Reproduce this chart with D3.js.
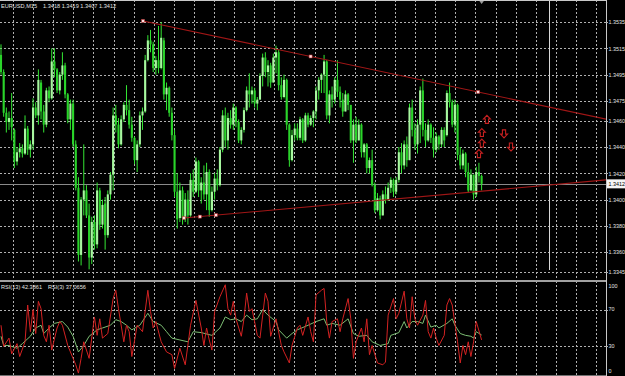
<!DOCTYPE html>
<html><head><meta charset="utf-8">
<script src="https://cdn.jsdelivr.net/npm/d3@7/dist/d3.min.js"></script>
<style>html,body{margin:0;padding:0;background:#000;overflow:hidden}svg{display:block}</style>
</head><body><svg id="c" width="625" height="376"></svg>
<script>
// ---------------- data ----------------
const symbolLabel = "EURUSD,M15";
const lastBarLabel = ["1.3418", "1.3419", "1.3407", "1.3412"];
const open = [1.3510,1.3497,1.3466,1.3459,1.3462,1.3453,1.3429,1.3436,1.3439,1.3435,
1.3454,1.3438,1.3442,1.3470,1.3464,1.3489,1.3467,1.3457,1.3483,1.3477,
1.3505,1.3499,1.3483,1.3495,1.3502,1.3480,1.3461,1.3473,1.3442,1.3409,
1.3358,1.3400,1.3407,1.3388,1.3356,1.3383,1.3366,1.3407,1.3381,1.3397,
1.3373,1.3404,1.3419,1.3464,1.3457,1.3442,1.3461,1.3472,1.3468,1.3457,
1.3447,1.3430,1.3442,1.3464,1.3467,1.3506,1.3521,1.3518,1.3500,1.3506,
1.3500,1.3521,1.3480,1.3485,1.3466,1.3449,1.3406,1.3386,1.3407,1.3386,
1.3400,1.3388,1.3415,1.3406,1.3429,1.3407,1.3413,1.3404,1.3421,1.3392,
1.3406,1.3416,1.3411,1.3438,1.3464,1.3445,1.3462,1.3457,1.3470,1.3459,
1.3445,1.3453,1.3468,1.3483,1.3480,1.3483,1.3473,1.3476,1.3494,1.3508,
1.3497,1.3502,1.3489,1.3508,1.3512,1.3487,1.3478,1.3491,1.3457,1.3430,
1.3449,1.3454,1.3447,1.3461,1.3445,1.3464,1.3457,1.3462,1.3467,1.3483,
1.3491,1.3495,1.3505,1.3464,1.3480,1.3476,1.3491,1.3482,1.3476,1.3467,
1.3480,1.3472,1.3445,1.3457,1.3445,1.3457,1.3436,1.3442,1.3424,1.3430,
1.3411,1.3392,1.3401,1.3388,1.3404,1.3400,1.3409,1.3415,1.3406,1.3415,
1.3436,1.3426,1.3442,1.3430,1.3470,1.3453,1.3442,1.3457,1.3483,1.3453,
1.3445,1.3457,1.3447,1.3438,1.3448,1.3442,1.3453,1.3449,1.3481,1.3474,
1.3457,1.3472,1.3434,1.3426,1.3435,1.3421,1.3407,1.3419,1.3404,1.3421,
1.3418];
const high = [1.3518,1.3499,1.3470,1.3467,1.3481,1.3454,1.3440,1.3443,1.3442,1.3464,
1.3456,1.3445,1.3477,1.3474,1.3499,1.3491,1.3472,1.3485,1.3486,1.3515,
1.3515,1.3500,1.3497,1.3512,1.3504,1.3481,1.3476,1.3476,1.3445,1.3417,
1.3402,1.3442,1.3411,1.3397,1.3387,1.3388,1.3413,1.3409,1.3400,1.3402,
1.3407,1.3421,1.3470,1.3472,1.3462,1.3464,1.3474,1.3487,1.3476,1.3463,
1.3448,1.3445,1.3467,1.3470,1.3510,1.3525,1.3529,1.3520,1.3509,1.3532,
1.3535,1.3523,1.3489,1.3486,1.3470,1.3453,1.3420,1.3413,1.3410,1.3405,
1.3407,1.3420,1.3423,1.3432,1.3430,1.3417,1.3426,1.3428,1.3423,1.3410,
1.3420,1.3423,1.3440,1.3468,1.3470,1.3466,1.3468,1.3473,1.3471,1.3461,
1.3455,1.3470,1.3486,1.3496,1.3486,1.3485,1.3478,1.3496,1.3511,1.3512,
1.3506,1.3504,1.3511,1.3517,1.3514,1.3493,1.3495,1.3492,1.3458,1.3453,
1.3458,1.3458,1.3463,1.3462,1.3466,1.3466,1.3464,1.3468,1.3486,1.3493,
1.3496,1.3510,1.3506,1.3483,1.3486,1.3493,1.3506,1.3486,1.3481,1.3483,
1.3481,1.3472,1.3461,1.3463,1.3461,1.3458,1.3443,1.3443,1.3432,1.3438,
1.3413,1.3405,1.3403,1.3407,1.3410,1.3413,1.3417,1.3416,1.3417,1.3440,
1.3443,1.3445,1.3448,1.3473,1.3476,1.3458,1.3461,1.3486,1.3492,1.3458,
1.3461,1.3458,1.3455,1.3451,1.3449,1.3455,1.3455,1.3483,1.3489,1.3476,
1.3476,1.3473,1.3440,1.3438,1.3436,1.3428,1.3423,1.3419,1.3425,1.3428,
1.3419];
const low = [1.3495,1.3463,1.3451,1.3453,1.3445,1.3424,1.3426,1.3432,1.3432,1.3434,
1.3434,1.3432,1.3438,1.3462,1.3457,1.3461,1.3451,1.3455,1.3474,1.3476,
1.3493,1.3481,1.3480,1.3491,1.3477,1.3458,1.3453,1.3440,1.3407,1.3353,
1.3350,1.3388,1.3386,1.3347,1.3351,1.3362,1.3363,1.3377,1.3378,1.3362,
1.3371,1.3400,1.3407,1.3451,1.3439,1.3441,1.3459,1.3464,1.3454,1.3444,
1.3427,1.3421,1.3440,1.3453,1.3466,1.3505,1.3512,1.3497,1.3495,1.3496,
1.3499,1.3476,1.3468,1.3463,1.3445,1.3402,1.3378,1.3383,1.3381,1.3383,
1.3381,1.3387,1.3402,1.3405,1.3402,1.3397,1.3400,1.3392,1.3387,1.3391,
1.3400,1.3407,1.3410,1.3436,1.3440,1.3438,1.3454,1.3453,1.3455,1.3443,
1.3442,1.3451,1.3467,1.3470,1.3473,1.3470,1.3468,1.3476,1.3486,1.3493,
1.3486,1.3485,1.3489,1.3496,1.3483,1.3476,1.3477,1.3453,1.3425,1.3429,
1.3445,1.3445,1.3445,1.3443,1.3444,1.3455,1.3456,1.3455,1.3461,1.3476,
1.3481,1.3481,1.3461,1.3458,1.3470,1.3473,1.3478,1.3470,1.3463,1.3467,
1.3468,1.3443,1.3428,1.3443,1.3445,1.3432,1.3432,1.3420,1.3420,1.3410,
1.3390,1.3391,1.3385,1.3388,1.3397,1.3399,1.3405,1.3402,1.3404,1.3413,
1.3420,1.3423,1.3425,1.3430,1.3448,1.3438,1.3435,1.3443,1.3448,1.3440,
1.3444,1.3443,1.3432,1.3436,1.3438,1.3440,1.3440,1.3448,1.3470,1.3455,
1.3451,1.3430,1.3423,1.3423,1.3417,1.3405,1.3407,1.3400,1.3402,1.3413,
1.3407];
const close = [1.3497,1.3466,1.3459,1.3462,1.3455,1.3429,1.3436,1.3439,1.3435,1.3454,
1.3438,1.3442,1.3470,1.3464,1.3491,1.3467,1.3457,1.3483,1.3477,1.3505,
1.3499,1.3483,1.3495,1.3502,1.3480,1.3461,1.3473,1.3442,1.3409,1.3358,
1.3400,1.3407,1.3388,1.3356,1.3383,1.3366,1.3407,1.3381,1.3396,1.3373,
1.3404,1.3419,1.3464,1.3457,1.3442,1.3461,1.3472,1.3468,1.3457,1.3447,
1.3430,1.3442,1.3464,1.3467,1.3506,1.3521,1.3518,1.3500,1.3506,1.3500,
1.3523,1.3480,1.3485,1.3466,1.3449,1.3406,1.3385,1.3407,1.3386,1.3400,
1.3388,1.3415,1.3406,1.3429,1.3407,1.3413,1.3404,1.3421,1.3392,1.3406,
1.3416,1.3411,1.3438,1.3464,1.3445,1.3462,1.3457,1.3470,1.3459,1.3445,
1.3453,1.3468,1.3483,1.3480,1.3483,1.3473,1.3476,1.3494,1.3508,1.3497,
1.3502,1.3489,1.3508,1.3512,1.3487,1.3478,1.3491,1.3457,1.3430,1.3449,
1.3454,1.3447,1.3461,1.3445,1.3464,1.3457,1.3462,1.3467,1.3483,1.3491,
1.3495,1.3505,1.3464,1.3480,1.3476,1.3491,1.3482,1.3476,1.3467,1.3480,
1.3472,1.3445,1.3457,1.3445,1.3457,1.3436,1.3442,1.3424,1.3430,1.3411,
1.3392,1.3401,1.3388,1.3404,1.3400,1.3409,1.3415,1.3406,1.3415,1.3436,
1.3426,1.3442,1.3430,1.3470,1.3453,1.3442,1.3457,1.3483,1.3453,1.3445,
1.3457,1.3447,1.3438,1.3448,1.3442,1.3453,1.3445,1.3481,1.3474,1.3457,
1.3472,1.3434,1.3426,1.3435,1.3421,1.3407,1.3419,1.3404,1.3421,1.3418,
1.3412];
const priceTicks = [1.3535,1.3515,1.3495,1.3475,1.3460,1.3440,1.3420,1.3400,1.3380,1.3360,1.3345];
const bidPrice = 1.3412;

const rsi3Bars = [0,1,3,4,6,7,9,10,11,12,13,14,15,16,17,18,19,21,22,23,25,27,28,29,30,31,33,35,36,37,38,40,42,43,44,46,47,48,49,51,53,55,56,57,58,60,62,64,65,67,69,71,73,75,76,77,78,79,80,82,84,85,86,87,88,90,91,92,93,94,96,97,99,100,101,103,105,106,108,109,111,112,113,115,116,117,118,120,121,122,123,124,126,127,128,130,131,132,133,135,136,137,138,139,141,143,144,145,147,148,149,151,152,153,154,155,156,158,159,160,161,162,163,164,166,167,168,169,171,172,173,174,175,176,177,178,180];
const rsi3Vals = [53,30,39,22,33,19,35,75,46,70,44,79,71,42,35,53,26,50,57,53,31,17,10,1,17,35,17,62,42,60,39,44,82,91,71,35,53,46,19,53,46,91,68,50,57,35,24,21,6,28,10,53,80,50,31,50,37,26,68,84,97,71,64,79,60,41,60,88,68,71,42,39,88,79,41,60,31,24,12,31,50,53,42,62,46,35,86,91,93,57,39,57,60,46,60,82,60,17,35,50,35,60,21,31,12,10,13,64,82,60,66,90,60,50,84,60,53,64,80,46,39,50,39,31,42,75,82,75,35,12,31,21,35,19,35,57,37.0656];
const rsi13Bars = [0,1,3,6,8,11,13,15,16,18,20,23,25,27,29,31,33,36,38,41,43,45,47,49,52,55,57,60,62,64,67,70,72,75,79,82,84,86,88,90,92,94,96,98,100,103,104,107,109,111,115,118,121,122,124,127,130,132,134,137,139,142,145,146,149,151,152,154,156,158,159,161,163,164,167,169,170,172,174,176,177,178,180];
const rsi13Vals = [41,31,31,28,33,41,50,53,44,50,55,57,51,41,24,31,41,48,50,53,59,57,53,48,53,66,57,53,46,39,37,35,46,45,42,50,62,59,60,57,64,59,60,70,64,57,48,39,44,48,53,57,60,53,55,53,60,44,41,42,35,31,33,42,45,57,50,57,57,55,64,51,53,50,55,60,53,44,42,41,39,46,42.3861];
const rsiTicks = [100,70,30,0];
const rsiGrid = [70,30];

// trend lines (bar index / price anchors)
const trendBarA = [53.2, 68.5];
const trendPriceA = [1.35358, 1.33860];
const trendBarB = [178.7, 80.5];
const trendPriceB = [1.34818, 1.33882];
// arrows
const arrowBars = [182, 180.1, 180.1, 179, 188.4, 191];
const arrowPrices = [1.3461, 1.3451, 1.3443, 1.3435, 1.3450, 1.3440];
const arrowDirs = ["up","up","up","up","down","down"];
const vLineBar = 205.2;
const shiftBar = 180;
const gridStartBar = 4.5, gridStepBar = 7.53;

// ---------------- drawing ----------------
const svg = d3.select("#c");
const W = 625, R = 606;
const mainBot = 278, subTop = 281, subBot = 375;
const N = close.length;
const x = d3.scaleLinear().domain([0, 180]).range([1, 481.6]);
const y = d3.scaleLinear().domain([1.3345, 1.3535]).range([272, 22]);
const yr = d3.scaleLinear().domain([0, 100]).range([374, 282]);

const gridColor = "#b0b0b0";
const textColor = "#e4e4e4";
const font = "Liberation Sans, Arial, sans-serif";
const fs = 5.4;

svg.append("rect").attr("width", W).attr("height", 376).attr("fill", "#000");

const defs = svg.append("defs");
defs.append("clipPath").attr("id","cm").append("rect").attr("x",0).attr("y",0).attr("width",R).attr("height",mainBot);
defs.append("clipPath").attr("id","cs").append("rect").attr("x",0).attr("y",subTop+1).attr("width",R).attr("height",subBot-subTop);

const vGrid = d3.range(gridStartBar, x.invert(R), gridStepBar);

// main grid
const gm = svg.append("g").attr("clip-path","url(#cm)");
gm.selectAll("line.vg").data(vGrid).join("line")
  .attr("x1", d=>Math.round(x(d))+0.5).attr("x2", d=>Math.round(x(d))+0.5)
  .attr("y1", 0).attr("y2", mainBot)
  .attr("stroke", gridColor).attr("stroke-dasharray","2,2").attr("stroke-width",1);
gm.selectAll("line.hg").data(priceTicks).join("line")
  .attr("x1", 0).attr("x2", R)
  .attr("y1", d=>Math.round(y(d))+0.5).attr("y2", d=>Math.round(y(d))+0.5)
  .attr("stroke", gridColor).attr("stroke-dasharray","2,2").attr("stroke-width",1);

// vertical line object
gm.append("line").attr("x1", Math.round(x(vLineBar))+0.5).attr("x2", Math.round(x(vLineBar))+0.5)
  .attr("y1", 0).attr("y2", 270).attr("stroke","#d8d8d8").attr("stroke-width",1);

// bid line
gm.append("line").attr("x1",0).attr("x2",R).attr("y1", Math.round(y(bidPrice))+0.5).attr("y2", Math.round(y(bidPrice))+0.5)
  .attr("stroke","#8a8a8a").attr("stroke-width",1);

// candles
const idx = d3.range(N);
const bw = 2.1;
gm.selectAll("line.wick").data(idx).join("line")
  .attr("x1", i=>x(i)).attr("x2", i=>x(i))
  .attr("y1", i=>y(high[i])).attr("y2", i=>y(low[i]))
  .attr("stroke", "#33e633").attr("stroke-width", 1);
gm.selectAll("rect.body").data(idx).join("rect")
  .attr("x", i=>x(i)-bw/2).attr("width", bw)
  .attr("y", i=>y(Math.max(open[i], close[i])))
  .attr("height", i=>Math.max(1, Math.abs(y(open[i])-y(close[i]))))
  .attr("fill", i=> close[i] >= open[i] ? "#a8f7a0" : "#2ad42a");

// trend lines (rays to the right)
const trendColor = "#a01616";
trendBarA.forEach((ba, k) => {
  const bb = trendBarB[k], pa = trendPriceA[k], pb = trendPriceB[k];
  const slope = (pb - pa) / (bb - ba);
  const bEnd = x.invert(R + 20);
  gm.append("line")
    .attr("x1", x(ba)).attr("y1", y(pa))
    .attr("x2", x(bEnd)).attr("y2", y(pa + slope*(bEnd-ba)))
    .attr("stroke", trendColor).attr("stroke-width", 1.1);
  [ba, (ba+bb)/2, bb].forEach(b => {
    const p = pa + slope*(b-ba);
    gm.append("rect").attr("x", x(b)-1.5).attr("y", y(p)-1.5).attr("width",3).attr("height",3)
      .attr("fill","#ffe0e0").attr("stroke","#c03030").attr("stroke-width",0.5);
  });
});

// arrows
const upArrow = "M0,-4 L3.5,-0.3 L1.6,-0.3 L1.6,4 L-1.6,4 L-1.6,-0.3 L-3.5,-0.3 Z";
const downArrow = "M0,4 L3.5,0.3 L1.6,0.3 L1.6,-4 L-1.6,-4 L-1.6,0.3 L-3.5,0.3 Z";
gm.selectAll("path.arrow").data(arrowBars.map((b,k)=>k)).join("path")
  .attr("transform", k=>`translate(${x(arrowBars[k])},${y(arrowPrices[k])})`)
  .attr("d", k=> arrowDirs[k]==="up" ? upArrow : downArrow)
  .attr("fill","none").attr("stroke","#c42020").attr("stroke-width",1.1);

// chart shift marker
svg.append("path").attr("d", `M${x(shiftBar)-3},0 L${x(shiftBar)+3},0 L${x(shiftBar)},4 Z`).attr("fill","#9a9a9a");

// main border
svg.append("line").attr("x1",0).attr("x2",R).attr("y1",0.5).attr("y2",0.5).attr("stroke","#c8c8c8");
svg.append("line").attr("x1",R+0.5).attr("x2",R+0.5).attr("y1",0).attr("y2",376).attr("stroke","#c8c8c8");

// price axis (tick stubs + labels)
svg.selectAll("line.pt").data(priceTicks).join("line")
  .attr("x1",R).attr("x2",R+2)
  .attr("y1", d=>Math.round(y(d))+0.5).attr("y2", d=>Math.round(y(d))+0.5)
  .attr("stroke", gridColor);
const ay = svg.append("g").attr("transform", `translate(${R},0)`)
  .call(d3.axisRight(y).tickValues(priceTicks).tickFormat(d3.format(".4f")).tickSize(0).tickPadding(2.5));
ay.select(".domain").remove();
ay.selectAll("text").attr("fill", textColor).attr("font-family", font).attr("font-size", fs);

// bid label
const bidY = y(bidPrice);
svg.append("rect").attr("x", R+1).attr("y", bidY-4.5).attr("width", W-R-1).attr("height", 9).attr("fill","#f4f4f4");
svg.append("text").attr("x", R+2.5).attr("y", bidY).attr("dy","0.35em").attr("font-family",font).attr("font-size",fs)
  .attr("fill","#000").text(d3.format(".4f")(bidPrice));

// title
svg.append("text").attr("x",1).attr("y",8).attr("font-family",font).attr("font-size",5.6).attr("fill",textColor).text(symbolLabel);
svg.append("text").attr("x",43).attr("y",8).attr("font-family",font).attr("font-size",5.6).attr("fill",textColor).text(lastBarLabel.join(" "));

// ---------------- RSI sub-window ----------------
const gs = svg.append("g").attr("clip-path","url(#cs)");
gs.selectAll("line.vg").data(vGrid).join("line")
  .attr("x1", d=>Math.round(x(d))+0.5).attr("x2", d=>Math.round(x(d))+0.5)
  .attr("y1", subTop).attr("y2", subBot)
  .attr("stroke", gridColor).attr("stroke-dasharray","2,2");
gs.selectAll("line.hg").data(rsiGrid).join("line")
  .attr("x1",0).attr("x2",R)
  .attr("y1", d=>Math.round(yr(d))+0.5).attr("y2", d=>Math.round(yr(d))+0.5)
  .attr("stroke", gridColor).attr("stroke-dasharray","2,2");
svg.selectAll("line.rt").data(rsiGrid).join("line")
  .attr("x1",R).attr("x2",R+2)
  .attr("y1", d=>Math.round(yr(d))+0.5).attr("y2", d=>Math.round(yr(d))+0.5)
  .attr("stroke", gridColor);

const line = d3.line().x(d=>x(d[0])).y(d=>yr(d[1]));
gs.append("path").datum(rsi13Bars.map((b,k)=>[b, rsi13Vals[k]]))
  .attr("d", line).attr("fill","none").attr("stroke","#7dbf74").attr("stroke-width",1);
gs.append("path").datum(rsi3Bars.map((b,k)=>[b, rsi3Vals[k]]))
  .attr("d", line).attr("fill","none").attr("stroke","#d42222").attr("stroke-width",1);

// sub window borders
svg.append("line").attr("x1",0).attr("x2",R).attr("y1",subTop).attr("y2",subTop).attr("stroke","#d8d8d8").attr("stroke-width",1.6);
svg.append("line").attr("x1",0).attr("x2",R).attr("y1",subBot+0.5).attr("y2",subBot+0.5).attr("stroke","#707070");

// rsi labels
const rsiLabelY = v => v===100 ? yr(v)+4 : (v===0 ? yr(v)-3 : yr(v));
svg.selectAll("text.rl").data(rsiTicks).join("text")
  .attr("x", R+2.5).attr("y", d=>rsiLabelY(d)).attr("dy","0.35em")
  .attr("font-family",font).attr("font-size",fs).attr("fill",textColor).text(d=>d);

svg.append("text").attr("x",1).attr("y",289).attr("font-family",font).attr("font-size",5.6).attr("fill",textColor)
  .text("RSI(13) " + d3.format(".4f")(rsi13Vals[rsi13Vals.length-1]));
svg.append("text").attr("x",48).attr("y",289).attr("font-family",font).attr("font-size",5.6).attr("fill",textColor)
  .text("RSI(3) " + d3.format(".4f")(rsi3Vals[rsi3Vals.length-1]));
</script></body></html>
